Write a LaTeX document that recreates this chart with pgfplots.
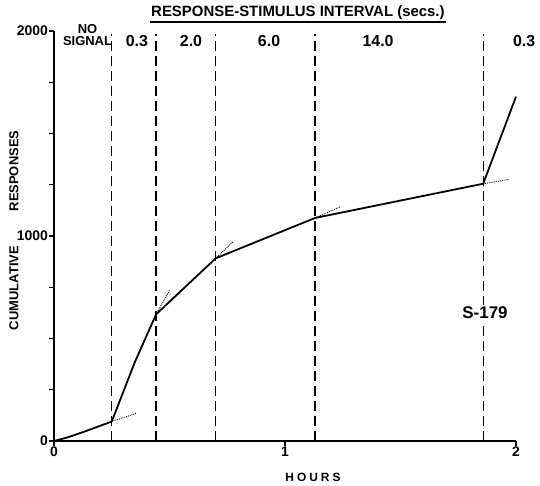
\documentclass[border=0pt]{standalone}
\usepackage{pgfplots}
\pgfplotsset{compat=1.18}
\usepackage{fontspec}
\setmainfont{Liberation Sans}
\usepackage{graphicx}
\begin{document}
\begin{tikzpicture}
\useasboundingbox (0,0) rectangle (540bp,486bp);
\begin{axis}[
  at={(54bp,45bp)}, anchor=south west,
  scale only axis, width=462bp, height=410bp,
  xmin=0, xmax=2, ymin=0, ymax=2000,
  axis x line*=bottom, axis y line*=left,
  axis line style={line width=1.6pt},
  xtick={0,1,2}, ytick={0,1000,2000},
  minor ytick={250,500,750,1250,1500,1750},
  tick align=outside,
  major tick length=5bp, minor tick length=5bp,
  every tick/.style={black, line width=1.4pt},
  ticklabel style={font=\bfseries\fontsize{14}{14}\selectfont, inner sep=1pt},
  /pgf/number format/assume math mode=true,
  /pgf/number format/1000 sep={},
  clip=false,
]
% interval boundaries
\addplot[black, line width=1.4pt, dash pattern=on 10bp off 5bp] coordinates {(0.250,0) (0.250,1985)};
\addplot[black, line width=1.4pt, dash pattern=on 10bp off 5bp] coordinates {(0.442,0) (0.442,1985)};
\addplot[black, line width=1.4pt, dash pattern=on 10bp off 5bp] coordinates {(0.700,0) (0.700,1985)};
\addplot[black, line width=1.4pt, dash pattern=on 10bp off 5bp] coordinates {(1.130,0) (1.130,1985)};
\addplot[black, line width=1.4pt, dash pattern=on 10bp off 5bp] coordinates {(1.858,0) (1.858,1985)};
% tangent extensions
\addplot[black, line width=0.9pt, densely dotted] coordinates {(0.250,95) (0.358,136)};
\addplot[black, line width=0.9pt, densely dotted] coordinates {(0.442,618) (0.502,737)};
\addplot[black, line width=0.9pt, densely dotted] coordinates {(0.700,891) (0.776,973)};
\addplot[black, line width=0.9pt, densely dotted] coordinates {(1.130,1088) (1.238,1141)};
\addplot[black, line width=0.9pt, densely dotted] coordinates {(1.858,1255) (1.970,1276)};
% cumulative record
\addplot[black, line width=1.8pt, line join=round] coordinates {
 (0,0) (0.06,18) (0.13,45) (0.250,95) (0.35,385) (0.442,618)
 (0.700,891) (1.130,1088) (1.858,1255) (2.0,1680)};
% labels
\node[font=\bfseries\fontsize{15}{15}\selectfont, inner sep=1pt] (t) at (axis cs:1.056,2088) {RESPONSE-STIMULUS INTERVAL (secs.)};
\draw[line width=1.5pt] ([yshift=-1pt]t.south west) -- ([yshift=-1pt]t.south east);
\node[font=\bfseries\fontsize{13}{12}\selectfont, align=center, inner sep=0pt] at (axis cs:0.145,1980) {NO\\SIGNAL};
\node[font=\bfseries\fontsize{16}{16}\selectfont] at (axis cs:0.359,1951) {0.3};
\node[font=\bfseries\fontsize{16}{16}\selectfont] at (axis cs:0.593,1951) {2.0};
\node[font=\bfseries\fontsize{16}{16}\selectfont] at (axis cs:0.931,1951) {6.0};
\node[font=\bfseries\fontsize{16}{16}\selectfont] at (axis cs:1.403,1951) {14.0};
\node[font=\bfseries\fontsize{16}{16}\selectfont] at (axis cs:2.035,1951) {0.3};
\node[font=\bfseries\fontsize{17}{17}\selectfont, fill=white, inner sep=2pt] at (axis cs:1.866,624) {S-179};
\node[font=\bfseries\fontsize{12}{12}\selectfont] at (axis cs:1.121,-176) {\addfontfeatures{LetterSpace=25}HOURS};
\node[font=\bfseries\fontsize{13}{13}\selectfont, rotate=90] at (axis cs:-0.173,746) {CUMULATIVE};
\node[font=\bfseries\fontsize{13}{13}\selectfont, rotate=90] at (axis cs:-0.173,1317) {RESPONSES};
\end{axis}
\end{tikzpicture}
\end{document}
